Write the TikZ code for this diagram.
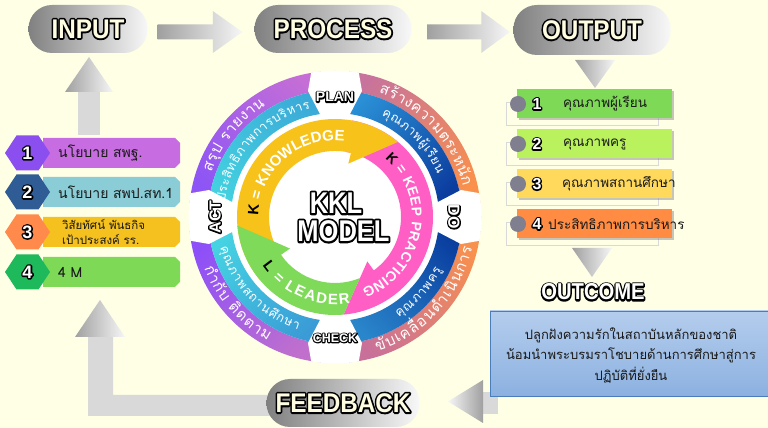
\documentclass[tikz,border=0pt]{standalone}
\usepackage{fontspec}
\usepackage{graphicx}
\usetikzlibrary{calc,shadows}
\setmainfont{Liberation Sans}
\newfontfamily\thaifont[Script=Thai]{Loma}
\definecolor{bg}{RGB}{255,255,230}
\definecolor{cream}{RGB}{255,253,225}
\definecolor{pillL}{RGB}{128,128,128}
\definecolor{pillR}{RGB}{248,248,248}
\definecolor{arrL}{RGB}{160,160,160}
\definecolor{arrR}{RGB}{246,246,246}
\definecolor{shaftgray}{RGB}{217,217,217}
\definecolor{txtdark}{RGB}{25,25,25}
% input list
\definecolor{bar1}{RGB}{200,108,226}\definecolor{hex1}{RGB}{139,79,240}
\definecolor{bar2}{RGB}{138,205,214}\definecolor{hex2}{RGB}{47,92,148}
\definecolor{bar3}{RGB}{245,193,30}\definecolor{hex3}{RGB}{255,138,76}
\definecolor{bar4}{RGB}{126,217,87}\definecolor{hex4}{RGB}{29,185,90}
% output list
\definecolor{ob1}{RGB}{126,217,87}\definecolor{ob2}{RGB}{185,242,92}
\definecolor{ob3}{RGB}{255,217,92}\definecolor{ob4}{RGB}{255,140,66}
\definecolor{dotgray}{RGB}{127,127,143}
\definecolor{boxtop}{RGB}{180,205,237}\definecolor{boxbot}{RGB}{140,177,224}
\definecolor{boxedge}{RGB}{74,126,187}
% ring
\definecolor{qTwoOutA}{RGB}{196,110,214}\definecolor{qTwoOutB}{RGB}{141,85,245}
\definecolor{qTwoInA}{RGB}{59,170,216}\definecolor{qTwoInB}{RGB}{67,208,224}
\definecolor{qOneOutA}{RGB}{200,115,155}\definecolor{qOneOutB}{RGB}{249,144,76}
\definecolor{qOneInA}{RGB}{42,143,213}\definecolor{qOneInB}{RGB}{11,60,158}
\definecolor{qThreeOutA}{RGB}{192,112,204}\definecolor{qThreeOutB}{RGB}{141,80,248}
\definecolor{qThreeInA}{RGB}{58,155,214}\definecolor{qThreeInB}{RGB}{69,210,226}
\definecolor{qFourOutA}{RGB}{248,144,78}\definecolor{qFourOutB}{RGB}{200,112,154}
\definecolor{qFourInA}{RGB}{10,63,160}\definecolor{qFourInB}{RGB}{42,134,203}
\definecolor{yel}{RGB}{247,194,26}
\definecolor{pnk}{RGB}{255,94,196}
\definecolor{grn}{RGB}{126,218,88}

% outlined text: a black stroked copy under the filled copy
\newcommand\olt[2]{\leavevmode\rlap{\special{pdf:literal direct 1 Tr #1 w 1 j 0 0 0 RG}#2\special{pdf:literal direct 0 Tr}}#2}

% fonts for curved texts
\newcommand\fBandOut{\normalfont\fontsize{15}{18}\selectfont\thaifont\color{white}}
\newcommand\fBandIn{\normalfont\fontsize{12.5}{15}\selectfont\thaifont\color{white}}
\newcommand\fArrow{\normalfont\fontsize{15}{15}\selectfont\bfseries\color{white}}
\newcommand\fArrowS{\normalfont\fontsize{14}{15}\selectfont\bfseries\color{white}}

\newbox\arcbox
\newdimen\arcdim
\newcount\arcn
% measuring (outside the picture): #1 id, #2 font, #3 extra gap (pt), #4 chunks
\newcommand\arcprep[4]{%
  \gdef\arctmp{}%
  \gdef\arctot{0}%
  \foreach \ch in {#4}{%
    \setbox\arcbox=\hbox{#2\ch}\global\arcdim=\wd\arcbox
    \global\advance\arcdim by #3pt
    \pgfmathparse{\arctot+\arcdim}\xdef\arctot{\pgfmathresult}%
    \xdef\arctmp{\unexpanded\expandafter{\arctmp}\ifx\arctmp\empty\else,\fi\the\arcdim/\unexpanded\expandafter{\ch}}%
  }%
  \global\expandafter\let\csname arcl#1\endcsname\arctmp
  \global\expandafter\let\csname arct#1\endcsname\arctot
}
% placing: #1 id, #2 radius of text middle, #3 centre angle, #4 dir (+1 ccw, -1 cw), #5 font, #6 baseline offset
\newcommand\arcplace[6]{%
  \expandafter\let\expandafter\arcthetot\csname arct#1\endcsname
  \expandafter\let\expandafter\arcthelist\csname arcl#1\endcsname
  \pgfmathsetmacro\arcrb{#2+(#4)*(#6)}%
  \pgfmathparse{#3-(#4)*\arcthetot/(#2)*57.29578/2}\xdef\arccur{\pgfmathresult}%
  \foreach \w/\ch in \arcthelist {%
    \pgfmathparse{(#4)*\w/(#2)*57.29578}\xdef\arcd{\pgfmathresult}%
    \pgfmathparse{\arccur+\arcd/2}\xdef\arcm{\pgfmathresult}%
    \global\advance\arcn by 1
    \edef\arcname{arc\the\arcn}%
    \node[inner sep=0pt, anchor=base, rotate=\arcm+(#4)*90, name=\arcname] at (\arcm:\arcrb) {#5\ch};%
    \pgfmathparse{\arccur+\arcd}\xdef\arccur{\pgfmathresult}%
  }%
}
\AtBeginDocument{%
  \arcprep{a}{\fBandOut}{0.8}{ส,รุ,ป,~,ร,า,ย,ง,า,น}%
  \arcprep{b}{\fBandIn}{0.8}{ป,ร,ะ,สิ,ท,ธิ,ภ,า,พ,ก,า,ร,บ,ริ,ห,า,ร}%
  \arcprep{c}{\fBandOut}{0.8}{ส,ร้,า,ง,ค,ว,า,ม,ต,ร,ะ,ห,นั,ก}%
  \arcprep{d}{\fBandIn}{0.8}{คุ,ณ,ภ,า,พ,ผู้,เ,รี,ย,น}%
  \arcprep{e}{\fBandOut}{0.8}{ขั,บ,เ,ค,ลื่,อ,น,ดำ,เ,นิ,น,ก,า,ร}%
  \arcprep{f}{\fBandIn}{0.8}{คุ,ณ,ภ,า,พ,ค,รู}%
  \arcprep{g}{\fBandOut}{0.8}{กำ,กั,บ,~,ติ,ด,ต,า,ม}%
  \arcprep{h}{\fBandIn}{0.8}{คุ,ณ,ภ,า,พ,ส,ถ,า,น,ศึ,ก,ษ,า}%
  \arcprep{k}{\fArrow}{0.8}{\textcolor{black}{K},~,=,~,K,N,O,W,L,E,D,G,E}%
  \arcprep{p}{\fArrowS}{0.8}{\textcolor{black}{K},~,=,~,K,E,E,P,~,P,R,A,C,T,I,C,I,N,G}%
  \arcprep{l}{\fArrow}{0.8}{\textcolor{black}{L},~,=,~,L,E,A,D,E,R}%
}

\newcommand\pilltext[1]{\olt{3.6}{\scalebox{0.9}[1]{#1}}}

\newcommand\initem[6]{%
  \fill[#2] (43,#1+15) -- (175,#1+15) -- (180,#1+10) -- (180,#1-10) -- (175,#1-15) -- (43,#1-15) -- cycle;
  \fill[#3] (5,#1) -- (16.5,#1+17.5) -- (38.5,#1+17.5) -- (50,#1) -- (38.5,#1-17.5) -- (16.5,#1-17.5) -- cycle;
  \node[numlbl] (#5n) at (27.5,#1) {\olt{3}{#4}};
  \node[intext] (#5t) at (58,#1) {#6};
}
\newcommand\outitem[6]{%
  \draw[gray!30, line width=0.8pt] (506,#1+2) rectangle (658,#1-21);
  \node[obox, fill=#2] (#4) at (594.5,#1) {};
  \node[graydot] (#4d) at (518,#1) {};
  \node[onum] (#4n) at (537,#1) {\olt{2.8}{#3}};
  \node[otext] (#4t) at (#5,#1) {#6};
}

\begin{document}
\begin{tikzpicture}[x=1pt,y=1pt,
  pill/.style={rounded corners=23.5pt, left color=pillL, right color=pillR,
    minimum height=48pt, inner sep=0pt, text=cream,
    font=\fontsize{27}{27}\selectfont\bfseries},
  harrow/.style={left color=arrL, right color=arrR},
  numlbl/.style={inner sep=0pt, text=white, font=\fontsize{18}{18}\selectfont\bfseries},
  intext/.style={anchor=west, inner sep=0pt, text=txtdark, font=\fontsize{14}{17}\selectfont\thaifont},
  obox/.style={minimum width=155pt, minimum height=29pt, inner sep=0pt,
    drop shadow={shadow xshift=2pt, shadow yshift=-2pt, opacity=0.45}},
  graydot/.style={circle, fill=dotgray, minimum size=16pt, inner sep=0pt},
  onum/.style={inner sep=0pt, text=white, font=\fontsize{16}{16}\selectfont\bfseries},
  otext/.style={anchor=west, inner sep=0pt, text=txtdark, font=\fontsize{13.5}{16}\selectfont\thaifont},
  gaplbl/.style={inner sep=0pt, text=white}]

\useasboundingbox (0,0) rectangle (768,428);
\fill[bg] (0,0) rectangle (768,428);

% ---------- pills ----------
\node[pill, minimum width=119pt] (input) at (88,399) {\pilltext{INPUT}};
\node[pill, minimum width=157pt] (process) at (333,399) {\pilltext{PROCESS}};
\node[pill, minimum width=157pt, minimum height=50pt] (output) at (592,398) {\pilltext{OUTPUT}};

% ---------- horizontal block arrows ----------
\path[harrow] let \p1=(input.east), \p2=(process.west) in
  (\x1+10,\y1+4.5) -- (\x2-41.5,\y1+4.5) -- (\x2-41.5,\y1+18) -- (\x2-12,\y1-3)
  -- (\x2-41.5,\y1-24) -- (\x2-41.5,\y1-10.5) -- (\x1+10,\y1-10.5) -- cycle;
\path[harrow] let \p1=(process.east), \p2=(output.west) in
  (\x1+15.5,\y1+4.5) -- (\x2-32,\y1+4.5) -- (\x2-32,\y1+18) -- (\x2-3.5,\y1-3)
  -- (\x2-32,\y1-24) -- (\x2-32,\y1-10.5) -- (\x1+15.5,\y1-10.5) -- cycle;

% ---------- down triangles of the output column ----------
\path[harrow] (575,368) -- (615,368) -- (595,340) -- cycle;
\path[harrow] (572,180) -- (612,180) -- (592,151) -- cycle;

% ---------- up arrow from list to INPUT ----------
\fill[shaftgray] (78,293) rectangle (100,337);
\path[harrow] (65,336) -- (113,336) -- (89,371) -- cycle;

% ---------- L arrow from FEEDBACK to list ----------
\fill[shaftgray] (300,33) -- (113,33) -- (113,92) -- (88,92) -- (88,12) -- (300,12) -- cycle;
\path[harrow] (75,91) -- (125,91) -- (100,128) -- cycle;

% ---------- arrow into FEEDBACK ----------
\fill[shaftgray] (482,36) rectangle (498,14);
\path[left color=arrR, right color=arrL] (483,48) -- (483,5) -- (448,26.5) -- cycle;
\node[pill, minimum width=153pt] (feedback) at (343,25) {\pilltext{FEEDBACK}};

% ---------- input list ----------
\initem{275}{bar1}{hex1}{1}{in1}{นโยบาย สพฐ.}
\initem{236}{bar2}{hex2}{2}{in2}{นโยบาย สพป.สท.1}
\initem{196}{bar3}{hex3}{3}{in3}{}
\node[intext, font=\fontsize{11.5}{14.5}\selectfont\thaifont, align=left] (in3text) at (62,196) {วิสัยทัศน์ พันธกิจ\\เป้าประสงค์ รร.};
\initem{156}{bar4}{hex4}{4}{in4}{4 M}

% ---------- output list ----------
\outitem{324}{ob1}{1}{o1}{563}{คุณภาพผู้เรียน}
\outitem{284}{ob2}{2}{o2}{563}{คุณภาพครู}
\outitem{244}{ob3}{3}{o3}{562}{คุณภาพสถานศึกษา}
\outitem{204}{ob4}{4}{o4}{548}{ประสิทธิภาพการบริหาร}

% ---------- outcome ----------
\node[text=white, inner sep=0pt, font=\fontsize{23}{23}\selectfont\bfseries] (outcomelbl) at (593,136)
  {\olt{3.2}{\scalebox{0.88}[1]{OUTCOME}}};
\node[draw=boxedge, line width=0.8pt, top color=boxtop, bottom color=boxbot,
  minimum width=280pt, minimum height=85pt, inner sep=0pt] (outcomebox) at (630,74.5) {};
\node[align=center, inner sep=0pt, text=txtdark, font=\fontsize{13}{20.5}\selectfont\thaifont] (outcometext) at (631,73)
  {ปลูกฝังความรักในสถาบันหลักของชาติ\\น้อมนำพระบรมราโชบายด้านการศึกษาสู่การ\\ปฏิบัติที่ยั่งยืน};

% ---------- KKL ring ----------
\begin{scope}[shift={(335,211)}]
  \fill[white] (0,0) circle (104);
  % outer band
  \path[top color=qOneOutA, bottom color=qOneOutB, shading angle=45]
    (0:146) arc[start angle=0, end angle=90, radius=146] -- (90:127) arc[start angle=90, end angle=0, radius=127] -- cycle;
  \path[top color=qTwoOutA, bottom color=qTwoOutB, shading angle=-45]
    (90:146) arc[start angle=90, end angle=180, radius=146] -- (180:127) arc[start angle=180, end angle=90, radius=127] -- cycle;
  \path[top color=qThreeOutA, bottom color=qThreeOutB, shading angle=-135]
    (180:146) arc[start angle=180, end angle=270, radius=146] -- (270:127) arc[start angle=270, end angle=180, radius=127] -- cycle;
  \path[top color=qFourOutA, bottom color=qFourOutB, shading angle=-45]
    (270:146) arc[start angle=270, end angle=360, radius=146] -- (0:127) arc[start angle=360, end angle=270, radius=127] -- cycle;
  % inner band
  \path[top color=qOneInA, bottom color=qOneInB, shading angle=45]
    (0:127) arc[start angle=0, end angle=90, radius=127] -- (90:104) arc[start angle=90, end angle=0, radius=104] -- cycle;
  \path[top color=qTwoInA, bottom color=qTwoInB, shading angle=-45]
    (90:127) arc[start angle=90, end angle=180, radius=127] -- (180:104) arc[start angle=180, end angle=90, radius=104] -- cycle;
  \path[top color=qThreeInA, bottom color=qThreeInB, shading angle=-135]
    (180:127) arc[start angle=180, end angle=270, radius=127] -- (270:104) arc[start angle=270, end angle=180, radius=104] -- cycle;
  \path[top color=qFourInA, bottom color=qFourInB, shading angle=-45]
    (270:127) arc[start angle=270, end angle=360, radius=127] -- (0:104) arc[start angle=360, end angle=270, radius=104] -- cycle;
  % gaps
  \begin{scope}
    \clip (0,0) circle (146.4);
    \foreach \a in {90,0,-90,180}
      \fill[white, rotate=\a-90] (-14,101) -- (14,101) -- (27,126) -- (23,149) -- (-23,149) -- (-27,126) -- cycle;
  \end{scope}
  % inner arrows
  \fill[pnk] (80:98) arc[start angle=80, end angle=-85, radius=98] -- (-54:55) -- (-54:66)
    arc[start angle=-54, end angle=80, radius=66] -- cycle;
  \fill[yel] (220:98) arc[start angle=220, end angle=50, radius=98] -- (76:55) -- (76:66)
    arc[start angle=76, end angle=220, radius=66] -- cycle;
  \fill[grn] (-85:98) arc[start angle=-85, end angle=-175, radius=98] -- (-145:55) -- (-145:66)
    arc[start angle=-145, end angle=-67.85, radius=66] -- cycle;

  % texts on outer and inner bands
  \arcplace{a}{136}{141}{-1}{\fBandOut}{4.5}
  \arcplace{b}{115}{137.5}{-1}{\fBandIn}{3.8}
  \arcplace{c}{136}{42}{-1}{\fBandOut}{4.5}
  \arcplace{d}{115}{44}{-1}{\fBandIn}{3.8}
  \arcplace{e}{136}{-42.5}{1}{\fBandOut}{4.5}
  \arcplace{f}{115}{-42}{1}{\fBandIn}{3.8}
  \arcplace{g}{136}{221.5}{1}{\fBandOut}{4.5}
  \arcplace{h}{115}{223.5}{1}{\fBandIn}{3.8}
  % texts on the three arrows
  \arcplace{k}{82}{131}{-1}{\fArrow}{5.4}
  \arcplace{p}{82}{-10}{-1}{\fArrowS}{5}
  \arcplace{l}{82}{247}{1}{\fArrow}{5.4}

  % gap labels
  \node[gaplbl, font=\fontsize{14}{14}\selectfont\bfseries] (plan) at (90:120) {\olt{2.4}{PLAN}};
  \node[gaplbl, font=\fontsize{16}{16}\selectfont\bfseries, rotate=-90] (do) at (0:119) {\olt{2.6}{DO}};
  \node[gaplbl, font=\fontsize{16}{16}\selectfont\bfseries, rotate=90] (act) at (180:120) {\olt{2.6}{ACT}};
  \node[gaplbl, font=\fontsize{12.5}{12.5}\selectfont\bfseries] (check) at (270:121) {\olt{2.2}{CHECK}};

  % centre title
  \node[gaplbl, font=\fontsize{30}{30}\selectfont\bfseries] (kkl) at (1,14) {\olt{4}{\scalebox{0.85}[1]{KKL}}};
  \node[gaplbl, font=\fontsize{30}{30}\selectfont\bfseries] (model) at (8.5,-14) {\olt{4}{\scalebox{0.85}[1]{MODEL}}};
\end{scope}
\end{tikzpicture}
\end{document}
